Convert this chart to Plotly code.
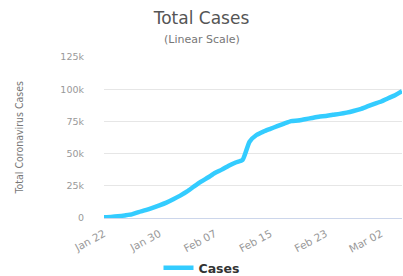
import plotly.graph_objects as go

dates = ["Jan 22","Jan 23","Jan 24","Jan 25","Jan 26","Jan 27","Jan 28","Jan 29","Jan 30","Jan 31",
         "Feb 01","Feb 02","Feb 03","Feb 04","Feb 05","Feb 06","Feb 07","Feb 08","Feb 09","Feb 10",
         "Feb 11","Feb 12","Feb 13","Feb 14","Feb 15","Feb 16","Feb 17","Feb 18","Feb 19","Feb 20",
         "Feb 21","Feb 22","Feb 23","Feb 24","Feb 25","Feb 26","Feb 27","Feb 28","Feb 29","Mar 01",
         "Mar 02","Mar 03","Mar 04","Mar 05"]
cases = [580, 845, 1317, 2015, 2800, 4581, 6058, 7813, 9823, 11950,
         14553, 17391, 20630, 24545, 28266, 31439, 34876, 37552, 40553, 43099,
         45134, 59287, 64438, 67100, 69197, 71329, 73332, 75184, 75700, 76677,
         77673, 78651, 79205, 80087, 80828, 81820, 83112, 84615, 86604, 88585,
         90443, 93016, 95314, 98425]
tick_labels = ["Jan 22", "Jan 30", "Feb 07", "Feb 15", "Feb 23", "Mar 02"]
y_ticks = [0, 25000, 50000, 75000, 100000, 125000]

idx = list(range(len(dates)))
tickvals = [dates.index(t) for t in tick_labels]

BASE = "DejaVu Sans, Open Sans, sans-serif"

fig = go.Figure()
fig.add_trace(go.Scatter(x=idx, y=cases, mode="lines", name="Cases",
                         line=dict(color="#33ccff", width=4.5, shape="spline", smoothing=0.5)))

fig.update_layout(
    width=403, height=276,
    margin=dict(l=104, r=1, t=57, b=58, autoexpand=False),
    paper_bgcolor="white", plot_bgcolor="white",
    font=dict(family=BASE, color="#888888"),
    title=dict(text="Total Cases", x=0.5, xref="container", xanchor="center",
               y=1 - 18 / 276, yref="container", yanchor="middle",
               font=dict(family=BASE, size=17, color="#555555")),
    showlegend=True,
    legend=dict(orientation="h", xref="container", yref="container",
                x=0.5, xanchor="center", y=8 / 276, yanchor="middle",
                font=dict(family=BASE, size=12.5, color="#333333", weight="bold"),
                itemwidth=30),
    xaxis=dict(range=[0, len(dates) - 1], tickmode="array", tickvals=tickvals,
               ticktext=tick_labels, tickangle=-28,
               tickfont=dict(family=BASE, size=10.5, color="#999999"),
               showgrid=False, showline=True, linecolor="#ccd6eb", zeroline=False,
               automargin=False, ticklabelstandoff=5),
    yaxis=dict(range=[0, 125000], tickmode="array", tickvals=y_ticks, tickformat="~s",
               tickfont=dict(family=BASE, size=9.5, color="#999999"), showgrid=True,
               gridcolor="#e6e6e6", zeroline=False, showline=False,
               ticklabelstandoff=19, automargin=False),
    annotations=[
        dict(text="(Linear Scale)", xref="paper", yref="paper",
             x=(202 - 104) / 298, y=1 + (57 - 40) / 161, xanchor="center", yanchor="middle",
             showarrow=False, font=dict(family=BASE, size=11, color="#777777")),
        dict(text="Total Coronavirus Cases", xref="paper", yref="paper",
             x=(18 - 104) / 298, y=0.5, xanchor="center", yanchor="middle", textangle=-90,
             showarrow=False,
             font=dict(family="Liberation Sans Narrow, DejaVu Sans Condensed, sans-serif",
                       size=10.5, color="#777777")),
    ],
)

fig.write_html("out.html", config={"displayModeBar": False},
               post_script="document.body.style.margin='0';document.body.style.overflow='hidden';")
